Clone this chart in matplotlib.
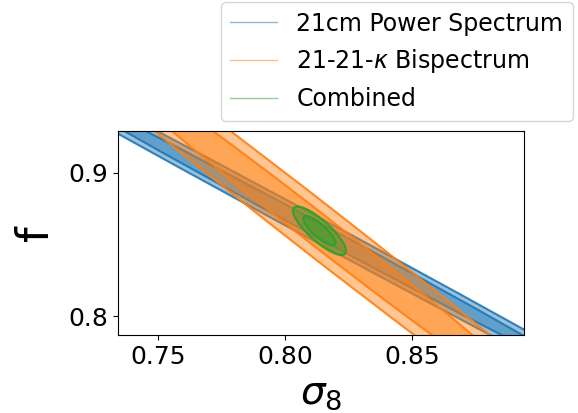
import numpy as np
import matplotlib.pyplot as plt
from matplotlib.patches import Ellipse
from matplotlib.lines import Line2D

# fiducial (sigma_8, f)
fiducial = [0.8135, 0.8595]

# marginal errors and correlation for each probe
labels = ['21cm Power Spectrum', r'21-21-$\kappa$ Bispectrum', 'Combined']
colors = ['tab:blue', 'tab:orange', 'tab:green']
sigma_s8 = [0.070, 0.060, 0.0042]
sigma_f = [0.067, 0.083, 0.0068]
rho = [-0.9985, -0.9943, -0.83]

# 95% and 68% contours for 2 parameters
levels = [np.sqrt(6.17), np.sqrt(2.30)]


def ellipse_params(sx, sy, r, k):
    cov = np.array([[sx ** 2, r * sx * sy], [r * sx * sy, sy ** 2]])
    vals, vecs = np.linalg.eigh(cov)
    angle = np.degrees(np.arctan2(vecs[1, 1], vecs[0, 1]))
    return 2 * k * np.sqrt(vals[1]), 2 * k * np.sqrt(vals[0]), angle


fig = plt.figure(figsize=(5.78, 4.13), dpi=100)
ax = fig.add_axes([0.204, 0.189, 0.703, 0.494])

for i in range(3):
    for k in levels:
        w, h, a = ellipse_params(sigma_s8[i], sigma_f[i], rho[i], k)
        ax.add_patch(Ellipse(fiducial, w, h, angle=a, facecolor=colors[i], alpha=0.45,
                             edgecolor='none'))
        ax.add_patch(Ellipse(fiducial, w, h, angle=a, facecolor='none',
                             edgecolor=colors[i], lw=1.5, alpha=0.9))

ax.set_xlim(0.7343, 0.894)
ax.set_ylim(0.787, 0.929)
ax.set_xticks([0.75, 0.80, 0.85])
ax.set_xticklabels(['0.75', '0.80', '0.85'])
ax.set_yticks([0.8, 0.9])
ax.tick_params(labelsize=18)
ax.set_xlabel(r'$\sigma_8$', fontsize=28)
ax.set_ylabel('f', fontsize=32, labelpad=8)

handles = [Line2D([], [], color=c, lw=1, alpha=0.5) for c in colors]
fig.legend(handles, labels, loc='upper left', bbox_to_anchor=(0.382, 0.995),
           fontsize=17, frameon=True, handlelength=2.0, labelspacing=0.5,
           borderaxespad=0.0)

fig.savefig('out.png', dpi=100)
